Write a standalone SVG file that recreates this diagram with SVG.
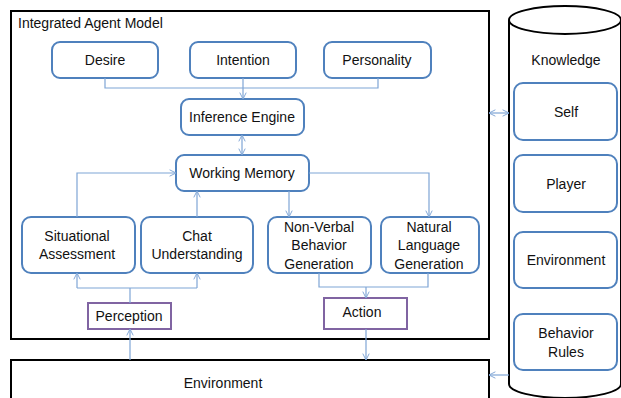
<svg xmlns="http://www.w3.org/2000/svg" width="621" height="398" viewBox="0 0 621 398">
<defs>
<marker id="arr" viewBox="0 0 10 10" refX="10" refY="5" markerWidth="8" markerHeight="8" markerUnits="userSpaceOnUse" orient="auto-start-reverse">
<path d="M2,1 L10,5 L2,9" fill="none" stroke="#7FA5D5" stroke-width="1.2"/>
</marker>
</defs>
<style>
text{font-family:"Liberation Sans",Arial,sans-serif;font-size:14px;fill:#111;text-anchor:middle}
.n{fill:#fff;stroke:#4F81BD;stroke-width:2}
.p{fill:#fff;stroke:#8064A2;stroke-width:2}
.b{fill:#fff;stroke:#000;stroke-width:2}
.c{fill:none;stroke:#7FA5D5;stroke-width:1.2}
</style>
<rect width="621" height="398" fill="#fff"/>
<g id="agent-model"><rect class="b" x="11" y="11" width="478" height="328"/><text x="18" y="28" style="text-anchor:start">Integrated Agent Model</text></g>
<g id="environment"><rect class="b" x="11" y="360" width="478" height="45"/><text x="223" y="388">Environment</text></g>
<g id="knowledge">
<path class="b" d="M509,20 L509,384 A56,14 0 0 0 621,384 L621,20"/>
<ellipse class="b" cx="565" cy="20" rx="56" ry="14"/>
<text x="566" y="65">Knowledge</text>
</g>
<g id="self"><rect class="n" x="514" y="83" width="103" height="57" rx="9"/><text x="566" y="117">Self</text></g>
<g id="player"><rect class="n" x="514" y="155" width="103" height="57" rx="9"/><text x="566" y="189">Player</text></g>
<g id="k-environment"><rect class="n" x="514" y="232" width="103" height="56" rx="9"/><text x="566" y="265">Environment</text></g>
<g id="behavior-rules"><rect class="n" x="514" y="314" width="103" height="56" rx="9"/><text x="566" y="338">Behavior</text><text x="566" y="357">Rules</text></g>
<g id="desire"><rect class="n" x="52" y="42" width="106" height="36" rx="8"/><text x="105" y="65">Desire</text></g>
<g id="intention"><rect class="n" x="190" y="42" width="106" height="36" rx="8"/><text x="243" y="65">Intention</text></g>
<g id="personality"><rect class="n" x="324" y="42" width="107" height="36" rx="8"/><text x="377" y="65">Personality</text></g>
<g id="inference-engine"><rect class="n" x="181" y="99" width="123" height="36" rx="8"/><text x="242" y="122">Inference Engine</text></g>
<g id="working-memory"><rect class="n" x="176" y="155" width="133" height="36" rx="8"/><text x="242" y="178">Working Memory</text></g>
<g id="situational-assessment"><rect class="n" x="22" y="217" width="113" height="56" rx="9"/><text x="77" y="241">Situational</text><text x="77" y="259">Assessment</text></g>
<g id="chat-understanding"><rect class="n" x="141" y="217" width="112" height="56" rx="9"/><text x="197" y="241">Chat</text><text x="197" y="259">Understanding</text></g>
<g id="non-verbal"><rect class="n" x="268" y="217" width="103" height="56" rx="9"/><text x="319" y="232">Non-Verbal</text><text x="319" y="250">Behavior</text><text x="319" y="269">Generation</text></g>
<g id="nlg"><rect class="n" x="381" y="217" width="98" height="56" rx="9"/><text x="429" y="232">Natural</text><text x="429" y="250">Language</text><text x="429" y="269">Generation</text></g>
<g id="perception"><rect class="p" x="88" y="303" width="83" height="26"/><text x="129" y="321">Perception</text></g>
<g id="action"><rect class="p" x="324" y="298" width="83" height="31"/><text x="362" y="317">Action</text></g>
<g id="connectors">
<path class="c" d="M105,78 V88 H378 V78"/>
<path class="c" d="M243,78 V99" marker-end="url(#arr)"/>
<path class="c" d="M242,135 V155" marker-start="url(#arr)" marker-end="url(#arr)"/>
<path class="c" d="M77,217 V173 H176" marker-end="url(#arr)"/>
<path class="c" d="M197,217 V191" marker-end="url(#arr)"/>
<path class="c" d="M309,173 H429 V217" marker-end="url(#arr)"/>
<path class="c" d="M289,191 V217" marker-end="url(#arr)"/>
<path class="c" d="M130,303 V288"/>
<path class="c" d="M77,288 H197"/>
<path class="c" d="M77,288 V273" marker-end="url(#arr)"/>
<path class="c" d="M197,288 V273" marker-end="url(#arr)"/>
<path class="c" d="M130,360 V329" marker-end="url(#arr)"/>
<path class="c" d="M319,273 V287 H428 V273"/>
<path class="c" d="M366,287 V298" marker-end="url(#arr)"/>
<path class="c" d="M366,329 V360" marker-end="url(#arr)"/>
<path class="c" d="M489,113 H509" marker-start="url(#arr)" marker-end="url(#arr)"/>
<path class="c" d="M509,375 H489" marker-end="url(#arr)"/>
</g>
</svg>
